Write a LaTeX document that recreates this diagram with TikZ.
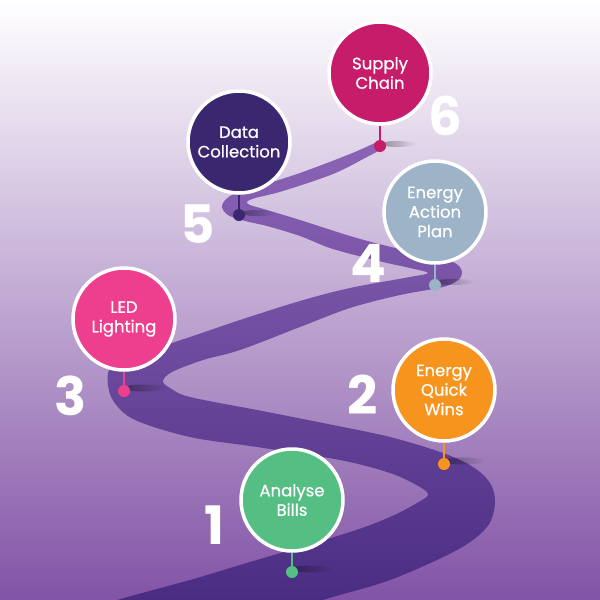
\documentclass[tikz,border=0pt]{standalone}
\usepackage{fontspec}
\setmainfont{Poppins}
\newfontfamily\labelfont[FakeBold=0.7]{Poppins}
\newfontfamily\numfont{Poppins}
\usetikzlibrary{fadings}

\definecolor{bgbottom}{RGB}{130,83,166}
\definecolor{roadtop}{RGB}{140,100,182}
\definecolor{roadbottom}{RGB}{70,42,128}
\definecolor{billsgreen}{RGB}{85,190,130}
\definecolor{winsorange}{RGB}{247,148,29}
\definecolor{ledpink}{RGB}{238,62,142}
\definecolor{plangrey}{RGB}{157,179,199}
\definecolor{datapurple}{RGB}{59,39,112}
\definecolor{chainred}{RGB}{199,28,106}

\begin{document}
\begin{tikzpicture}[x=1pt,y=-1pt,
  stepcircle/.style={circle,draw=white,line width=3.5pt,minimum size=102pt,inner sep=0pt,
    text=white,align=center,font=\labelfont\fontsize{16.5}{19.5}\selectfont},
  pindot/.style={circle,inner sep=0pt,minimum size=12pt},
  pinline/.style={line width=2pt},
  stepnum/.style={text=white,inner sep=0pt,font=\numfont\bfseries\fontsize{53}{53}\selectfont},
  smear/.style={fill=black,opacity=0.35,path fading=east}]
  \useasboundingbox (0,0) rectangle (600,600);
  \shade[top color=white,bottom color=bgbottom] (0,0) rectangle (600,600);

  \begin{scope}
    \clip (0,0) rectangle (600,600);
    \shade[top color=roadtop,bottom color=roadbottom]
      plot[smooth,tension=0.55] coordinates {(250,625) (323,600) (390,580) (457,550) (487,527)
        (495,503) (490,483) (473,467) (443,453) (390,437) (323,423) (257,410) (190,397)
        (170,388) (163,381) (172,372) (203,360) (240,350) (300,327) (350,308) (400,295)
        (443,287) (458,280) (462,272) (455,263) (430,256) (383,245) (350,236) (300,220)
        (267,210) (248,204) (252,199) (283,191) (333,174) (367,157) (384,148)}
      -- plot[smooth,tension=0.55] coordinates {(377,142) (350,154) (300,173) (250,189)
        (230,196) (222,206) (228,215) (245,221) (267,226) (300,236) (333,249) (383,262)
        (410,268) (428,273) (410,277) (350,288) (300,301) (240,320) (190,337) (150,350)
        (120,359) (109,370) (108,385) (114,402) (135,420) (190,437) (257,447) (340,460)
        (390,473) (420,487) (428,495) (417,503) (390,517) (347,533) (240,565) (190,580)
        (117,600) (60,618)}
      -- cycle;
  \end{scope}

  \fill[smear] (312,569) ellipse (22 and 3.5);
  \fill[smear] (464,461) ellipse (22 and 3.5);
  \fill[smear] (145,388) ellipse (22 and 3.5);
  \fill[smear] (454,282) ellipse (20 and 3);
  \fill[smear] (258,213) ellipse (18 and 3);
  \fill[smear] (398,144) ellipse (18 and 3);

  \node[pindot,fill=billsgreen] (d1) at (292,572) {};
  \node[pindot,fill=winsorange] (d2) at (444,464) {};
  \node[pindot,fill=ledpink] (d3) at (124,391) {};
  \node[pindot,fill=plangrey] (d4) at (435,285) {};
  \node[pindot,fill=datapurple] (d5) at (239,215) {};
  \node[pindot,fill=chainred] (d6) at (380,146) {};

  \node[stepcircle,fill=billsgreen] (c1) at (292,500) {Analyse\\Bills};
  \node[stepcircle,fill=winsorange] (c2) at (444,390) {Energy\\Quick\\Wins};
  \node[stepcircle,fill=ledpink] (c3) at (124,319) {LED\\Lighting};
  \node[stepcircle,fill=plangrey] (c4) at (435,212) {Energy\\Action\\Plan};
  \node[stepcircle,fill=datapurple] (c5) at (239,142) {Data\\Collection};
  \node[stepcircle,fill=chainred] (c6) at (380,73) {Supply\\Chain};

  \draw[pinline,billsgreen] (c1.south) -- (d1);
  \draw[pinline,winsorange] (c2.south) -- (d2);
  \draw[pinline,ledpink] (c3.south) -- (d3);
  \draw[pinline,plangrey] (c4.south) -- (d4);
  \draw[pinline,datapurple] (c5.south) -- (d5);
  \draw[pinline,chainred] (c6.south) -- (d6);

  \node[stepnum] (n1) at (214,525) {1};
  \node[stepnum] (n2) at (363,395) {2};
  \node[stepnum] (n3) at (71,396) {3};
  \node[stepnum] (n4) at (368,263) {4};
  \node[stepnum] (n5) at (198,224) {5};
  \node[stepnum] (n6) at (445,116) {6};
\end{tikzpicture}
\end{document}
